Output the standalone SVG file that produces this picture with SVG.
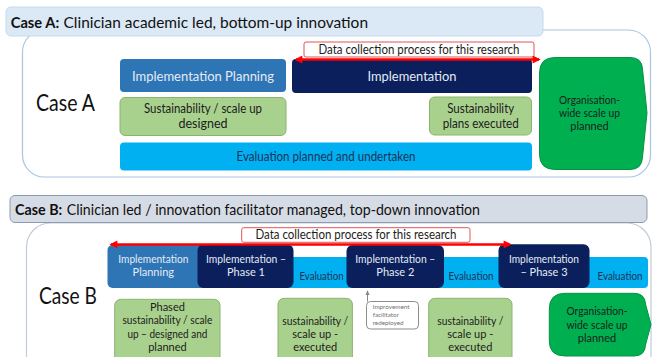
<svg xmlns="http://www.w3.org/2000/svg" width="652" height="357" viewBox="0 0 652 357">
<defs>
<style>
text{font-family:Lato,"Open Sans","Liberation Sans",sans-serif;text-anchor:middle}
.hdr{text-anchor:start;font-size:16px;fill:#111}
.case{text-anchor:start;font-size:23px;fill:#111}
.plan{fill:#2e75b6}
.impl{fill:#0a1f5c}
.lt{fill:#e4ebf5}
.grn{fill:#a9d18e;stroke:#8ab46e;stroke-width:1}
.eval{fill:#00b0f0}
.org{fill:#00b050;stroke:#079146;stroke-width:1}
.dk{fill:#1c1c1c}
.ev{fill:#1f3259}
.lbl{fill:#fff;stroke:#e05555;stroke-width:1}
.red{stroke:#ff0000;stroke-width:2.5;fill:none}
.sm{font-size:11px}
</style>
<marker id="rh" viewBox="0 0 10 10" refX="8" refY="5" markerWidth="3.4" markerHeight="3.2" orient="auto-start-reverse"><path d="M0,0 L10,5 L0,10 z" fill="#ff0000"/></marker>
<marker id="gh" viewBox="0 0 10 10" refX="8" refY="5" markerWidth="5" markerHeight="5" orient="auto"><path d="M0,1 L10,5 L0,9 z" fill="#888"/></marker>
</defs>

<!-- Case A -->
<g id="outerA"><rect x="22.5" y="30" width="628" height="147" rx="22" fill="#fff" stroke="#a9c6e0" stroke-width="1.2"/></g>
<g id="headerA"><rect x="6" y="7" width="537" height="29" rx="5" fill="#dbe8f5" stroke="#c6daee"/>
<text class="hdr" x="10.7" y="27.5" font-weight="bold" textLength="48.5" lengthAdjust="spacingAndGlyphs">Case A:</text>
<text class="hdr" x="63.5" y="27.5" textLength="304.5" lengthAdjust="spacingAndGlyphs">Clinician academic led, bottom-up innovation</text></g>
<g id="labelA"><text class="case" x="36" y="111" textLength="59" lengthAdjust="spacingAndGlyphs">Case A</text></g>

<g id="planA"><rect class="plan" x="120" y="59" width="166" height="33" rx="4"/>
<text class="lt" x="203" y="81" font-size="14" textLength="142" lengthAdjust="spacingAndGlyphs">Implementation Planning</text></g>
<g id="implA"><rect class="impl" x="292" y="59" width="240" height="34" rx="4"/>
<text class="lt" x="412" y="81" font-size="14" textLength="89" lengthAdjust="spacingAndGlyphs">Implementation</text></g>
<g id="sustDesignA"><rect class="grn" x="120" y="97.5" width="166" height="38" rx="5"/>
<text class="dk" x="203" y="113" font-size="12.5" textLength="118" lengthAdjust="spacingAndGlyphs">Sustainability / scale up</text>
<text class="dk" x="203" y="128" font-size="12.5">designed</text></g>
<g id="sustExecA"><rect class="grn" x="429.5" y="97" width="102" height="38" rx="5"/>
<text class="dk" x="480.7" y="113" font-size="12.5" textLength="67" lengthAdjust="spacingAndGlyphs">Sustainability</text>
<text class="dk" x="480.7" y="128" font-size="12.5" textLength="76" lengthAdjust="spacingAndGlyphs">plans executed</text></g>
<g id="evalA"><rect class="eval" x="120" y="142.5" width="412" height="28" rx="4"/>
<text class="ev" x="326" y="160.5" font-size="13" textLength="179" lengthAdjust="spacingAndGlyphs">Evaluation planned and undertaken</text></g>
<g id="orgA"><path class="org" d="M555,57.5 H630 Q642,57.5 642.5,69 L647,113 L642.5,157 Q642,169.5 630,169.5 H555 Q539.5,169.5 539.5,154 V73 Q539.5,57.5 555,57.5 Z"/>
<text class="dk" x="589.5" y="104" font-size="11" textLength="61" lengthAdjust="spacingAndGlyphs">Organisation-</text>
<text class="dk" x="589.5" y="117" font-size="11" textLength="61" lengthAdjust="spacingAndGlyphs">wide scale up</text>
<text class="dk" x="589.5" y="130" font-size="11">planned</text></g>
<g id="dataA"><rect class="lbl" x="304" y="42" width="230" height="15" rx="2"/>
<text class="dk" x="419" y="53.5" font-size="13" textLength="201" lengthAdjust="spacingAndGlyphs">Data collection process for this research</text></g>

<!-- Case B -->
<g id="outerB"><rect x="26.5" y="223" width="624.5" height="200" rx="24" fill="#fff" stroke="#c2ccd8" stroke-width="1.2"/></g>
<g id="headerB"><rect x="10" y="195.5" width="637" height="27" rx="5" fill="#d6dce5" stroke="#8c9bb0"/>
<text class="hdr" x="15" y="214.5" font-weight="bold" textLength="47.3" lengthAdjust="spacingAndGlyphs">Case B:</text>
<text class="hdr" x="66.7" y="214.5" textLength="413.3" lengthAdjust="spacingAndGlyphs">Clinician led / innovation facilitator managed, top-down innovation</text></g>
<g id="labelB"><text class="case" x="39" y="304" textLength="58" lengthAdjust="spacingAndGlyphs">Case B</text></g>

<g id="evalB"><rect class="eval" x="280" y="257" width="368" height="31" rx="4"/>
<text class="ev sm" x="321.5" y="279.5" textLength="44" lengthAdjust="spacingAndGlyphs">Evaluation</text>
<text class="ev sm" x="471" y="279.5" textLength="45" lengthAdjust="spacingAndGlyphs">Evaluation</text>
<text class="ev sm" x="620" y="279.5" textLength="45" lengthAdjust="spacingAndGlyphs">Evaluation</text></g>
<g id="planB"><rect class="plan" x="107.5" y="245" width="100" height="43" rx="5"/>
<text class="lt sm" x="153.3" y="262.5" textLength="70" lengthAdjust="spacingAndGlyphs">Implementation</text>
<text class="lt sm" x="153.3" y="276">Planning</text></g>
<g id="phase1"><rect class="impl" x="197.5" y="244.5" width="96" height="43.5" rx="6"/>
<text class="lt sm" x="246" y="262.5" textLength="80" lengthAdjust="spacingAndGlyphs">Implementation –</text>
<text class="lt sm" x="246" y="276">Phase 1</text></g>
<g id="phase2"><rect class="impl" x="346.5" y="245" width="97.5" height="43" rx="6"/>
<text class="lt sm" x="395.3" y="262.5" textLength="80" lengthAdjust="spacingAndGlyphs">Implementation –</text>
<text class="lt sm" x="395.3" y="276">Phase 2</text></g>
<g id="phase3"><rect class="impl" x="498.5" y="244.3" width="91" height="43.7" rx="6"/>
<text class="lt sm" x="544" y="262.5" textLength="70" lengthAdjust="spacingAndGlyphs">Implementation</text>
<text class="lt sm" x="544" y="275.5">– Phase 3</text></g>

<g id="phasedB"><rect class="grn" x="114.7" y="299.3" width="105.3" height="70" rx="6"/>
<text class="dk sm" x="167.4" y="311">Phased</text>
<text class="dk sm" x="167.4" y="324" textLength="90" lengthAdjust="spacingAndGlyphs">sustainability / scale</text>
<text class="dk sm" x="167.4" y="337.5" textLength="80" lengthAdjust="spacingAndGlyphs">up – designed and</text>
<text class="dk sm" x="167.4" y="350.5">planned</text></g>
<g id="sustB1"><rect class="grn" x="278" y="298.3" width="74.4" height="70" rx="6"/>
<text class="dk sm" x="315.2" y="324.5" textLength="66" lengthAdjust="spacingAndGlyphs">sustainability /</text>
<text class="dk sm" x="315.2" y="338">scale up -</text>
<text class="dk sm" x="315.2" y="351">executed</text></g>
<g id="sustB2"><rect class="grn" x="428.7" y="298.3" width="83.3" height="70" rx="6"/>
<text class="dk sm" x="470.3" y="324.5" textLength="66" lengthAdjust="spacingAndGlyphs">sustainability /</text>
<text class="dk sm" x="470.3" y="338">scale up -</text>
<text class="dk sm" x="470.3" y="351">executed</text></g>
<g id="facilitator"><rect x="366.5" y="301.5" width="52" height="27.5" rx="4" fill="#fff" stroke="#8c8c8c" stroke-width="1"/>
<text x="372.7" y="309" font-size="6.3" fill="#707070" style="text-anchor:start">Improvement</text>
<text x="372.7" y="316.7" font-size="6.3" fill="#707070" style="text-anchor:start">facilitator</text>
<text x="372.7" y="324.5" font-size="6.3" fill="#707070" style="text-anchor:start">redeployed</text></g>
<g id="orgB"><path class="org" d="M565,293.3 H634 Q645,293.3 645.5,304 L651,324.5 L645.5,345 Q645,356 634,356 H565 Q549.3,356 549.3,341 V309 Q549.3,293.3 565,293.3 Z"/>
<text class="dk sm" x="597" y="315" textLength="61" lengthAdjust="spacingAndGlyphs">Organisation-</text>
<text class="dk sm" x="597" y="328.5" textLength="61" lengthAdjust="spacingAndGlyphs">wide scale up</text>
<text class="dk sm" x="597" y="342">planned</text></g>
<g id="dataB"><rect class="lbl" x="241.7" y="227.7" width="228.3" height="14.6" rx="2"/>
<text class="dk" x="356" y="238.8" font-size="13" textLength="201" lengthAdjust="spacingAndGlyphs">Data collection process for this research</text></g>

<g id="connectors">
<line class="red" x1="296" y1="59.5" x2="539" y2="59.5" marker-start="url(#rh)" marker-end="url(#rh)"/>
<line class="red" x1="111" y1="244.4" x2="510" y2="244.4" marker-start="url(#rh)" marker-end="url(#rh)"/>
<line x1="367.5" y1="301.5" x2="367.5" y2="291" stroke="#888" stroke-width="1" marker-end="url(#gh)"/>
</g>
</svg>
